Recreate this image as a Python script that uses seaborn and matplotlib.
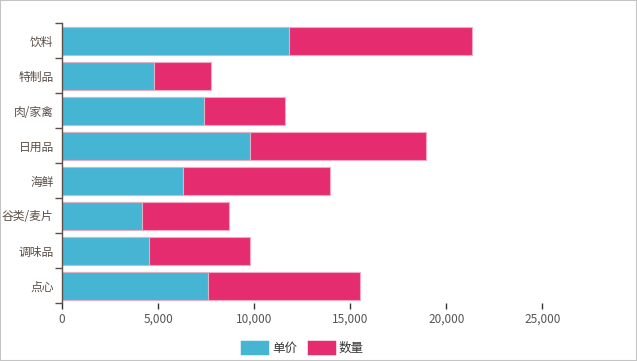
import matplotlib
matplotlib.use("Agg")
import matplotlib.pyplot as plt
import seaborn as sns
import pandas as pd
from matplotlib.patches import Patch, Rectangle
from matplotlib.ticker import FuncFormatter, FixedLocator

# 数据
categories = ["饮料", "特制品", "肉/家禽", "日用品", "海鲜", "谷类/麦片", "调味品", "点心"]
price = [11820, 4790, 7400, 9790, 6300, 4170, 4530, 7600]
quantity = [9530, 2970, 4220, 9170, 7660, 4530, 5260, 7920]
series_names = ["单价", "数量"]

blue = "#45b5d3"
pink = "#e52c6e"

sns.set_theme(style="white")
plt.rcParams["font.family"] = ["Noto Sans CJK SC", "DejaVu Sans"]

df = pd.DataFrame({"cat": categories, "price": price, "quantity": quantity})
df["total"] = df["price"] + df["quantity"]

fig = plt.figure(figsize=(6.37, 3.61), dpi=100)
ax = fig.add_axes([62 / 637, (361 - 303) / 361, 538 / 637, 280 / 361])

# 堆叠: 先画总量(数量), 再叠单价
sns.barplot(data=df, x="total", y="cat", order=categories, color=pink,
            saturation=1, width=0.8, edgecolor="#f3a9c4", linewidth=0.8, ax=ax)
sns.barplot(data=df, x="price", y="cat", order=categories, color=blue,
            saturation=1, width=0.8, edgecolor="#d9b3c6", linewidth=0.8, ax=ax)

ax.set_xlim(0, 28000)
ax.set_ylim(len(categories) - 0.5, -0.5)
ax.set_xlabel("")
ax.set_ylabel("")

for s in ["top", "right", "bottom"]:
    ax.spines[s].set_visible(False)
ax.spines["left"].set_color("#5c5048")
ax.spines["left"].set_linewidth(1)

ax.set_xticks([0, 5000, 10000, 15000, 20000, 25000])
ax.xaxis.set_major_formatter(FuncFormatter(lambda v, p: f"{int(v):,}"))
ax.tick_params(axis="x", length=4, width=1, color="#333333", labelcolor="#555555",
               labelsize=8.5, pad=3, bottom=True)

ax.tick_params(axis="y", which="major", length=0, labelcolor="#5c5048", labelsize=8.5, pad=6)
ax.yaxis.set_minor_locator(FixedLocator([i - 0.5 for i in range(len(categories) + 1)]))
ax.tick_params(axis="y", which="minor", length=5, width=1, color="#5c5048", left=True)

# 图例: 圆角色块
handles = [Patch(facecolor=blue, edgecolor=blue, linewidth=2.5, joinstyle="round", label=series_names[0]),
           Patch(facecolor=pink, edgecolor=pink, linewidth=2.5, joinstyle="round", label=series_names[1])]
leg = fig.legend(handles=handles, loc="center", bbox_to_anchor=(303 / 637, (361 - 348) / 361),
                 ncol=2, frameon=False, fontsize=9, handlelength=2.0, handleheight=1.0,
                 columnspacing=0.9, handletextpad=0.4)
for t in leg.get_texts():
    t.set_color("#333333")

fig.patches.append(Rectangle((0, 0), 1, 1, transform=fig.transFigure, fill=False,
                             edgecolor="#c4c4c4", linewidth=1.5))

fig.savefig("out.png", dpi=100)
